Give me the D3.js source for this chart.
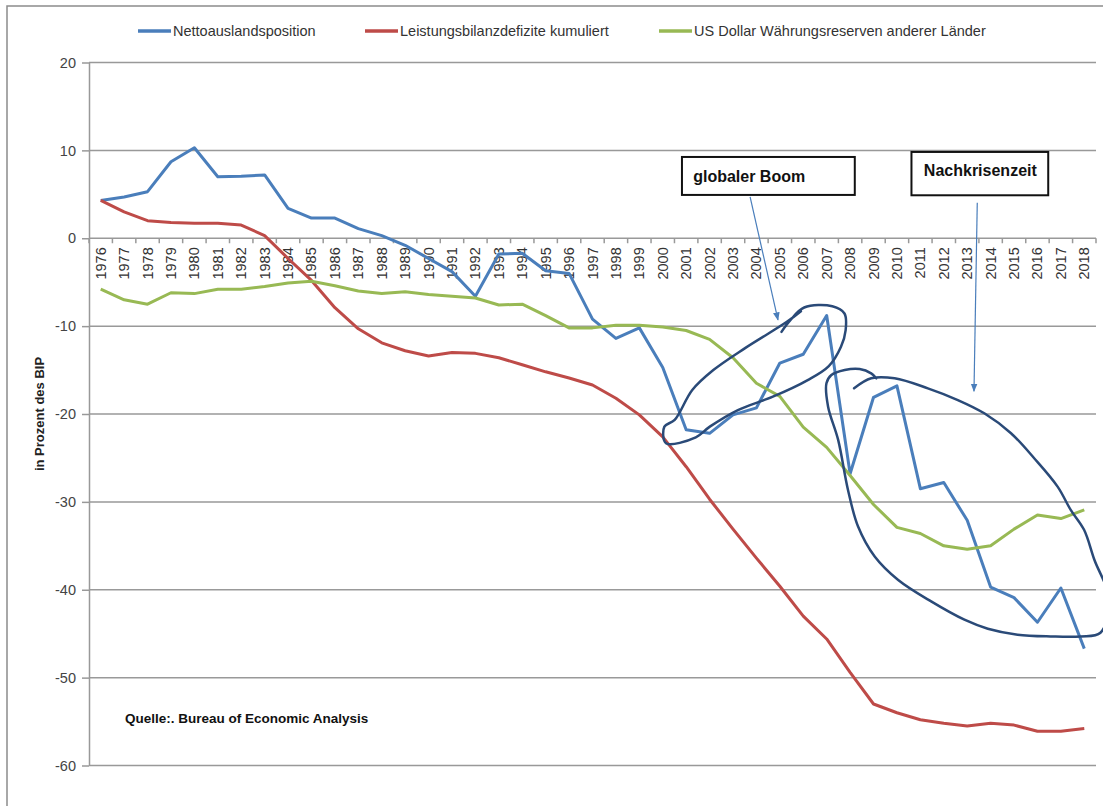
<!DOCTYPE html>
<html>
<head>
<meta charset="utf-8">
<script src="https://cdn.jsdelivr.net/npm/d3@7/dist/d3.min.js"></script>
<style>
	body { margin: 0; background: #fff; }
	svg { display: block; font-family: "Liberation Sans", Arial, sans-serif; }
</style>
</head>
<body>
<div id="chart"></div>
<script>
// categories
var years = [1976, 1977, 1978, 1979, 1980, 1981, 1982, 1983, 1984, 1985,
	1986, 1987, 1988, 1989, 1990, 1991, 1992, 1993, 1994, 1995,
	1996, 1997, 1998, 1999, 2000, 2001, 2002, 2003, 2004, 2005,
	2006, 2007, 2008, 2009, 2010, 2011, 2012, 2013, 2014, 2015,
	2016, 2017, 2018];

// series (in Prozent des BIP)
var netto = [4.3, 4.7, 5.3, 8.7, 10.3, 7.0, 7.05, 7.2, 3.4, 2.3,
	2.3, 1.1, 0.3, -0.8, -2.3, -3.8, -6.6, -1.8, -1.7, -3.7,
	-4.0, -9.2, -11.4, -10.2, -14.7, -21.8, -22.2, -20.1, -19.3, -14.2,
	-13.2, -8.8, -26.8, -18.1, -16.8, -28.5, -27.8, -32.1, -39.7, -40.9,
	-43.7, -39.8, -46.7];
var leistung = [4.3, 3.0, 2.0, 1.8, 1.7, 1.7, 1.5, 0.3, -2.3, -4.8,
	-7.9, -10.3, -11.9, -12.8, -13.4, -13.0, -13.1, -13.6, -14.4, -15.2,
	-15.9, -16.7, -18.2, -20.1, -22.6, -26.0, -29.7, -33.1, -36.4, -39.6,
	-43.0, -45.6, -49.4, -53.0, -54.0, -54.8, -55.2, -55.5, -55.2, -55.4,
	-56.1, -56.1, -55.8];
var reserven = [-5.8, -7.0, -7.5, -6.2, -6.3, -5.8, -5.8, -5.5, -5.1, -4.9,
	-5.4, -6.0, -6.3, -6.1, -6.4, -6.6, -6.8, -7.6, -7.5, -8.8,
	-10.2, -10.2, -9.9, -9.9, -10.1, -10.5, -11.5, -13.6, -16.5, -18.0,
	-21.5, -23.8, -27.0, -30.3, -32.9, -33.6, -35.0, -35.4, -35.0, -33.1,
	-31.5, -31.9, -30.9];

var seriesNames = ["Nettoauslandsposition", "Leistungsbilanzdefizite kumuliert", "US Dollar Währungsreserven anderer Länder"];
var seriesColors = ["#4a7ebb", "#be4b48", "#98b954"];

// y axis tick labels
var yTicks = [20, 10, 0, -10, -20, -30, -40, -50, -60];

// hand drawn annotation loops, [year, value]
var boomLoop = [[2005.07, -10.65], [2005.45, -9.32], [2006.04, -7.88], [2007.24, -7.73], [2007.76, -8.56],
	[2007.81, -10.45], [2007.61, -12.35], [2007.09, -14.55], [2006.19, -16.14], [2004.7, -18.03],
	[2003.21, -19.55], [2002.01, -21.44], [2001.41, -22.65], [2000.14, -23.33], [2000.07, -21.44],
	[2000.51, -20.68], [2001.26, -17.27], [2002.16, -15.0], [2003.5, -12.53], [2005.3, -9.51], [2005.9, -8.3]];
var krisenLoop = [[2008.17, -17.08], [2008.9, -15.94], [2009.9, -15.94], [2011.32, -17.08], [2012.6, -18.41],
	[2013.73, -19.92], [2014.87, -22.19], [2015.86, -25.03], [2016.86, -28.26], [2017.42, -30.91],
	[2017.99, -33.18], [2018.43, -36.59], [2019.07, -41.14], [2018.69, -44.89], [2017.84, -45.31],
	[2016.56, -45.31], [2015.15, -45.11], [2013.88, -44.43], [2012.88, -43.41], [2011.46, -41.33],
	[2010.04, -38.86], [2009.05, -36.22], [2008.34, -32.81], [2007.91, -28.64], [2007.49, -22.95],
	[2007.06, -19.17], [2006.99, -16.51], [2007.2, -15.57], [2007.77, -15.0], [2008.41, -14.89],
	[2008.9, -15.38], [2009.12, -15.94]];

var width = 1103, height = 806;

var svg = d3.select("#chart")
	.append("svg")
	.attr("width", width)
	.attr("height", height);

var x = d3.scaleBand().domain(years).range([89, 1096]),
	bw = x.bandwidth(),
	xl = d3.scaleLinear().domain([1976, 2018]).range([x(1976) + bw / 2, x(2018) + bw / 2]),
	y = d3.scaleLinear().domain([-60, 20]).range([765.5, 62.5]);

// outer frame
svg.append("rect")
	.attr("x", 7).attr("y", 6)
	.attr("width", 1200).attr("height", 900)
	.attr("fill", "none")
	.attr("stroke", "#8c8c8c")
	.attr("stroke-width", 1.5);

// grid lines
svg.append("g")
	.selectAll("line")
	.data(yTicks)
	.enter().append("line")
	.attr("x1", 89).attr("x2", 1096)
	.attr("y1", function(d) { return y(d); })
	.attr("y2", function(d) { return y(d); })
	.attr("stroke", "#999")
	.attr("stroke-width", 1.5);

// y axis (plain hyphen for negatives, like the original)
var yAxis = svg.append("g")
	.attr("transform", "translate(89,0)")
	.call(d3.axisLeft(y).tickValues(yTicks).tickFormat(function(d) { return String(d); })
		.tickSizeInner(7).tickSizeOuter(0).tickPadding(6));
yAxis.select(".domain").attr("stroke", "#999").attr("stroke-width", 1.5);
yAxis.selectAll(".tick line").attr("stroke", "#999").attr("stroke-width", 1.5);
yAxis.selectAll("text")
	.attr("fill", "#444")
	.attr("font-size", "14.5px")
	.attr("font-family", "Liberation Sans, Arial, sans-serif");

yAxis.append("text")
	.attr("transform", "rotate(-90)")
	.attr("x", -y(-20))
	.attr("y", -45)
	.attr("text-anchor", "middle")
	.attr("fill", "#222")
	.attr("font-size", "13px")
	.attr("font-weight", "bold")
	.text("in Prozent des BIP");

// x axis at zero, ticks between categories
var xg = svg.append("g").attr("transform", "translate(0," + y(0) + ")");
xg.selectAll(".xtick")
	.data(years.concat([null]))
	.enter().append("line")
	.attr("class", "xtick")
	.attr("x1", function(d, i) { return x.range()[0] + i * bw; })
	.attr("x2", function(d, i) { return x.range()[0] + i * bw; })
	.attr("y1", 0).attr("y2", 5)
	.attr("stroke", "#999")
	.attr("stroke-width", 1.5);
xg.selectAll(".xlabel")
	.data(years)
	.enter().append("text")
	.attr("class", "xlabel")
	.attr("transform", function(d) { return "translate(" + (x(d) + bw / 2 + 5) + ",9) rotate(-90)"; })
	.attr("text-anchor", "end")
	.attr("fill", "#333")
	.attr("font-size", "14.5px")
	.text(function(d) { return d; });

// series lines
var line = d3.line()
	.x(function(d, i) { return x(years[i]) + bw / 2; })
	.y(function(d) { return y(d); });

[netto, leistung, reserven].forEach(function(s, k) {
	svg.append("path")
		.datum(s)
		.attr("fill", "none")
		.attr("stroke", seriesColors[k])
		.attr("stroke-width", 3)
		.attr("stroke-linejoin", "round")
		.attr("d", line);
});

// hand drawn loops
var loop = d3.line()
	.curve(d3.curveCatmullRom.alpha(0.5))
	.x(function(d) { return xl(d[0]); })
	.y(function(d) { return y(d[1]); });

[boomLoop, krisenLoop].forEach(function(p) {
	svg.append("path")
		.datum(p)
		.attr("fill", "none")
		.attr("stroke", "#2a4a78")
		.attr("stroke-width", 2.5)
		.attr("stroke-linecap", "round")
		.attr("d", loop);
});

// annotation boxes + arrows
svg.append("defs").append("marker")
	.attr("id", "arrow")
	.attr("viewBox", "0 0 10 10")
	.attr("refX", 9).attr("refY", 5)
	.attr("markerWidth", 7).attr("markerHeight", 7)
	.attr("orient", "auto")
	.append("path")
	.attr("d", "M0,1L10,5L0,9z")
	.attr("fill", "#4a7ebb");

var notes = [
	{ text: "globaler Boom", x0: 2000.82, x1: 2008.2, y0: 9.25, y1: 4.93, tx: 2001.3, ty: 7.0, from: [2003.73, 4.7], to: [2004.92, -9.3] },
	{ text: "Nachkrisenzeit", x0: 2010.62, x1: 2016.46, y0: 9.82, y1: 4.89, tx: 2011.15, ty: 7.7, from: [2013.43, 4.05], to: [2013.29, -17.4] }
];

notes.forEach(function(n) {
	svg.append("line")
		.attr("x1", xl(n.from[0])).attr("y1", y(n.from[1]))
		.attr("x2", xl(n.to[0])).attr("y2", y(n.to[1]))
		.attr("stroke", "#4a7ebb")
		.attr("stroke-width", 1.2)
		.attr("marker-end", "url(#arrow)");
	svg.append("rect")
		.attr("x", xl(n.x0)).attr("y", y(n.y0))
		.attr("width", xl(n.x1) - xl(n.x0))
		.attr("height", y(n.y1) - y(n.y0))
		.attr("fill", "#fff")
		.attr("stroke", "#111")
		.attr("stroke-width", 2);
	svg.append("text")
		.attr("x", xl(n.tx)).attr("y", y(n.ty))
		.attr("dy", "0.35em")
		.attr("fill", "#111")
		.attr("font-size", "16px")
		.attr("font-weight", "bold")
		.text(n.text);
});

// source note
svg.append("text")
	.attr("x", 125).attr("y", 723)
	.attr("fill", "#111")
	.attr("font-size", "13.5px")
	.attr("font-weight", "bold")
	.text("Quelle:. Bureau of Economic Analysis");

// legend
var legendX = [138, 365, 659];
var legend = svg.append("g").attr("transform", "translate(0,31)");
seriesNames.forEach(function(name, k) {
	legend.append("line")
		.attr("x1", legendX[k]).attr("x2", legendX[k] + 33)
		.attr("y1", 0).attr("y2", 0)
		.attr("stroke", seriesColors[k])
		.attr("stroke-width", 3.5);
	legend.append("text")
		.attr("x", legendX[k] + 35)
		.attr("dy", "0.35em")
		.attr("fill", "#333")
		.attr("font-size", "14.5px")
		.text(name);
});
</script>
</body>
</html>
